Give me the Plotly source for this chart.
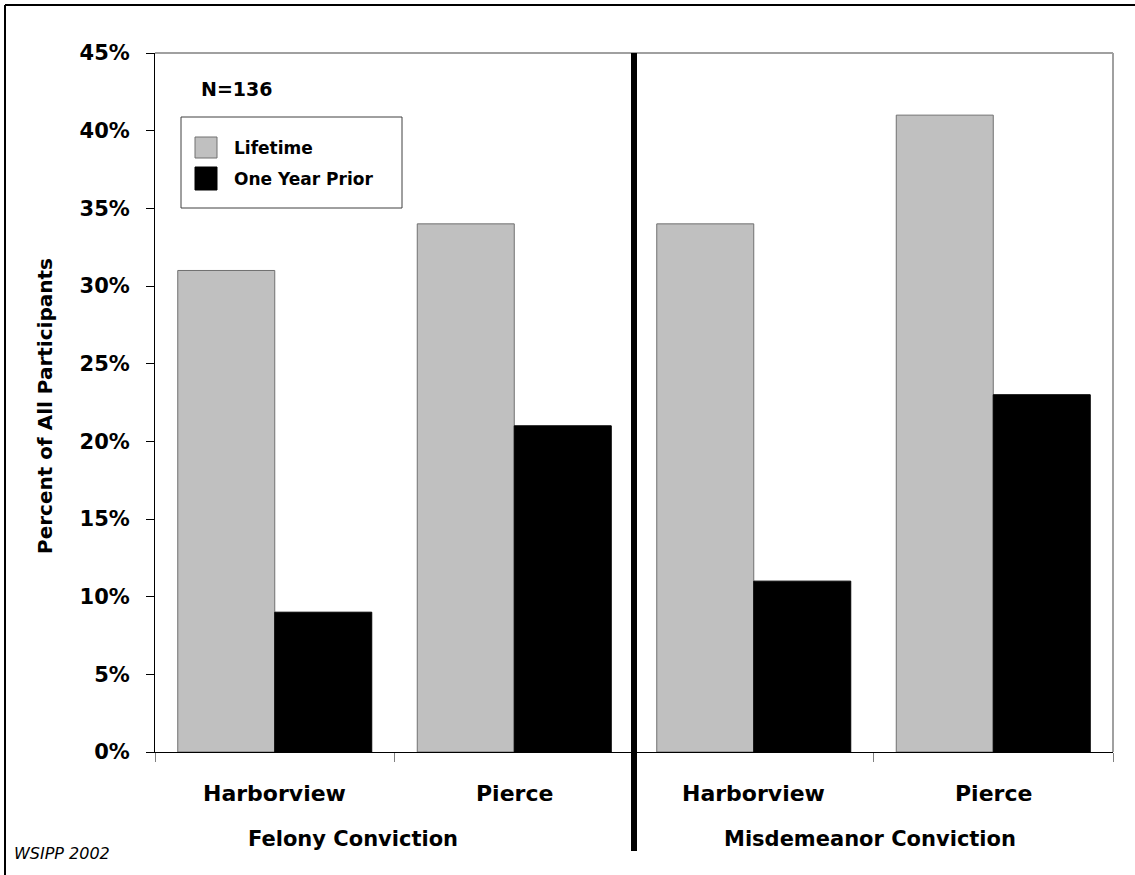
import plotly.graph_objects as go

# ---- data ----
sites = ["Harborview", "Pierce", "Harborview", "Pierce"]
groups = ["Felony Conviction", "Misdemeanor Conviction"]
series_names = ["Lifetime", "One Year Prior"]
lifetime = [31, 34, 34, 41]
one_year_prior = [9, 21, 11, 23]
y_ticks = [0, 5, 10, 15, 20, 25, 30, 35, 40, 45]
sample_note = "N=136"
source_note = "WSIPP 2002"

W, H = 1135, 875
L, R, T, B = 155, 1113, 53, 752
FONT = "DejaVu Sans, Liberation Sans, Arial, sans-serif"
GRAY = "#c0c0c0"


def px_x(p):
    return (p - L) / (R - L)


def px_y(p):
    return (B - p) / (B - T)


xpos = list(range(len(sites)))

fig = go.Figure()
fig.add_trace(go.Bar(x=xpos, y=lifetime, name=series_names[0],
                     marker=dict(color=GRAY, line=dict(color="#707070", width=1)),
                     showlegend=False))
fig.add_trace(go.Bar(x=xpos, y=one_year_prior, name=series_names[1],
                     marker=dict(color="#000000", line=dict(color="#000000", width=1)),
                     showlegend=False))

shapes = []
# plot area top/right gray border
shapes.append(dict(type="line", xref="paper", yref="paper", x0=0, x1=1, y0=1, y1=1,
                   line=dict(color="#a0a0a0", width=2)))
shapes.append(dict(type="line", xref="paper", yref="paper", x0=1, x1=1, y0=0, y1=1,
                   line=dict(color="#a0a0a0", width=2)))
# separator between groups
shapes.append(dict(type="line", xref="x", yref="paper", x0=1.5, x1=1.5,
                   y0=px_y(851), y1=1, line=dict(color="#000000", width=6)))
# outer frame (top and left)
shapes.append(dict(type="line", xref="paper", yref="paper", x0=px_x(5), x1=px_x(1140),
                   y0=px_y(5), y1=px_y(5), line=dict(color="#000000", width=2)))
shapes.append(dict(type="line", xref="paper", yref="paper", x0=px_x(5), x1=px_x(5),
                   y0=px_y(5), y1=px_y(880), line=dict(color="#000000", width=2)))
# custom legend box
shapes.append(dict(type="rect", xref="paper", yref="paper", x0=px_x(181), x1=px_x(402),
                   y0=px_y(208), y1=px_y(117), fillcolor="white",
                   line=dict(color="#404040", width=1)))
shapes.append(dict(type="rect", xref="paper", yref="paper", x0=px_x(195), x1=px_x(217),
                   y0=px_y(158), y1=px_y(137), fillcolor=GRAY,
                   line=dict(color="#707070", width=1)))
shapes.append(dict(type="rect", xref="paper", yref="paper", x0=px_x(195), x1=px_x(217),
                   y0=px_y(190), y1=px_y(167), fillcolor="#000000",
                   line=dict(color="#000000", width=1)))

bold = dict(family=FONT, color="#000000", weight="bold")
annotations = []
for i, s in enumerate(sites):
    annotations.append(dict(x=i, y=0, xref="x", yref="paper", text=s, showarrow=False,
                            xanchor="center", yanchor="middle", yshift=-41,
                            font=dict(size=22, **bold)))
group_shift = [-42, -4]
for g, name in enumerate(groups):
    annotations.append(dict(x=2 * g + 0.5, y=0, xref="x", yref="paper", text=name,
                            showarrow=False, xanchor="center", yanchor="middle",
                            yshift=-87, xshift=group_shift[g],
                            font=dict(size=21, **bold)))
annotations.append(dict(x=0, y=1, xref="paper", yref="paper", text=sample_note,
                        showarrow=False, xanchor="left", yanchor="middle",
                        xshift=44, yshift=-(89 - T), font=dict(size=19, **bold)))
annotations.append(dict(x=0, y=0, xref="paper", yref="paper", text=source_note,
                        showarrow=False, xanchor="left", yanchor="middle",
                        xshift=12 - L, yshift=-(853 - B),
                        font=dict(size=16, family=FONT, color="#000000", style="italic")))
annotations.append(dict(x=px_x(45), y=px_y(406), xref="paper", yref="paper",
                        text="Percent of All Participants", showarrow=False,
                        textangle=-90, xanchor="center", yanchor="middle",
                        font=dict(size=20, **bold)))
legend_y = [148, 179]
for name, yy in zip(series_names, legend_y):
    annotations.append(dict(x=px_x(232), y=px_y(yy), xref="paper", yref="paper",
                            text=name, showarrow=False, xanchor="left", yanchor="middle",
                            font=dict(size=17, **bold)))

fig.update_layout(
    width=W, height=H,
    margin=dict(l=L, r=W - R, t=T, b=H - B, pad=0),
    paper_bgcolor="white", plot_bgcolor="white",
    barmode="group", bargap=0.19, bargroupgap=0,
    showlegend=False,
    shapes=shapes, annotations=annotations,
    xaxis=dict(range=[-0.5, len(sites) - 0.5], tickmode="array",
               tickvals=[i - 0.5 for i in range(len(sites) + 1)],
               showticklabels=False, ticks="outside", ticklen=9, tickcolor="#808080",
               showline=True, linecolor="#000000", linewidth=1, showgrid=False,
               zeroline=False, fixedrange=True),
    yaxis=dict(range=[0, 45], tickmode="array", tickvals=y_ticks,
               ticktext=[f"{v}%" for v in y_ticks], ticks="outside", ticklen=8,
               tickcolor="#000000", showline=True, linecolor="#000000", linewidth=1,
               showgrid=False, zeroline=False, ticklabelstandoff=12,
               tickfont=dict(size=21, **bold), fixedrange=True),
)

fig.write_html("out.html", config={"displayModeBar": False},
               post_script="document.body.style.margin='0';document.body.style.overflow='hidden';")
